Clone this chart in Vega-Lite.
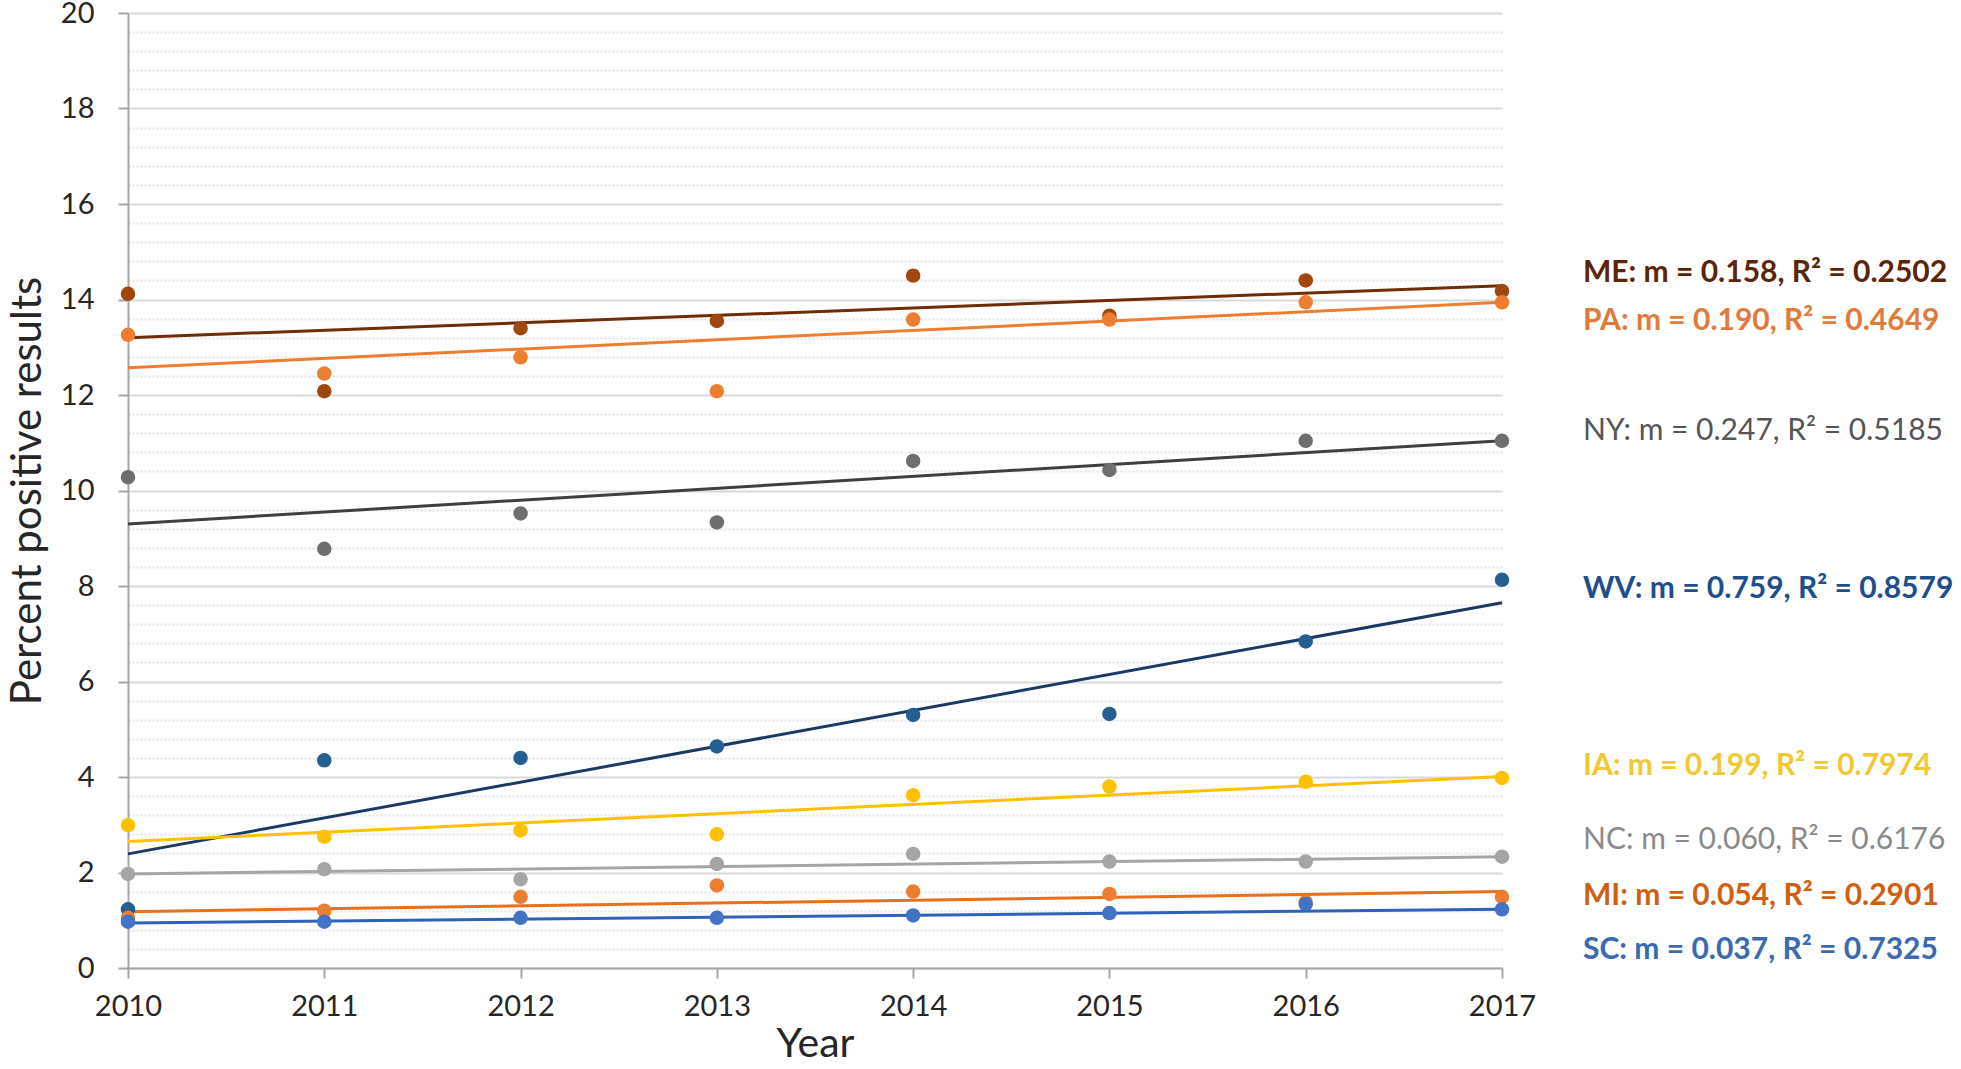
{
  "$schema": "https://vega.github.io/schema/vega-lite/v6.json",
  "width": 1374,
  "height": 955,
  "autosize": {"type": "none"},
  "padding": {"left": 128, "top": 13, "right": 459, "bottom": 101},
  "background": "white",
  "config": {"view": {"stroke": null}, "font": "Lato"},
  "datasets": {
    "points": [
      {"state": "ME", "year": 2010, "value": 14.12}, {"state": "ME", "year": 2011, "value": 12.08}, {"state": "ME", "year": 2012, "value": 13.4}, {"state": "ME", "year": 2013, "value": 13.55}, {"state": "ME", "year": 2014, "value": 14.5}, {"state": "ME", "year": 2015, "value": 13.66}, {"state": "ME", "year": 2016, "value": 14.4}, {"state": "ME", "year": 2017, "value": 14.18},
      {"state": "PA", "year": 2010, "value": 13.26}, {"state": "PA", "year": 2011, "value": 12.45}, {"state": "PA", "year": 2012, "value": 12.79}, {"state": "PA", "year": 2013, "value": 12.08}, {"state": "PA", "year": 2014, "value": 13.58}, {"state": "PA", "year": 2015, "value": 13.58}, {"state": "PA", "year": 2016, "value": 13.94}, {"state": "PA", "year": 2017, "value": 13.94},
      {"state": "NY", "year": 2010, "value": 10.28}, {"state": "NY", "year": 2011, "value": 8.78}, {"state": "NY", "year": 2012, "value": 9.52}, {"state": "NY", "year": 2013, "value": 9.33}, {"state": "NY", "year": 2014, "value": 10.62}, {"state": "NY", "year": 2015, "value": 10.43}, {"state": "NY", "year": 2016, "value": 11.04}, {"state": "NY", "year": 2017, "value": 11.04},
      {"state": "WV", "year": 2010, "value": 1.23}, {"state": "WV", "year": 2011, "value": 4.35}, {"state": "WV", "year": 2012, "value": 4.4}, {"state": "WV", "year": 2013, "value": 4.64}, {"state": "WV", "year": 2014, "value": 5.3}, {"state": "WV", "year": 2015, "value": 5.32}, {"state": "WV", "year": 2016, "value": 6.84}, {"state": "WV", "year": 2017, "value": 8.13},
      {"state": "IA", "year": 2010, "value": 2.99}, {"state": "IA", "year": 2011, "value": 2.75}, {"state": "IA", "year": 2012, "value": 2.88}, {"state": "IA", "year": 2013, "value": 2.8}, {"state": "IA", "year": 2014, "value": 3.62}, {"state": "IA", "year": 2015, "value": 3.8}, {"state": "IA", "year": 2016, "value": 3.9}, {"state": "IA", "year": 2017, "value": 3.98},
      {"state": "NC", "year": 2010, "value": 1.97}, {"state": "NC", "year": 2011, "value": 2.07}, {"state": "NC", "year": 2012, "value": 1.86}, {"state": "NC", "year": 2013, "value": 2.18}, {"state": "NC", "year": 2014, "value": 2.39}, {"state": "NC", "year": 2015, "value": 2.23}, {"state": "NC", "year": 2016, "value": 2.23}, {"state": "NC", "year": 2017, "value": 2.33},
      {"state": "MI", "year": 2010, "value": 1.05}, {"state": "MI", "year": 2011, "value": 1.2}, {"state": "MI", "year": 2012, "value": 1.49}, {"state": "MI", "year": 2013, "value": 1.73}, {"state": "MI", "year": 2014, "value": 1.6}, {"state": "MI", "year": 2015, "value": 1.55}, {"state": "MI", "year": 2016, "value": 1.38}, {"state": "MI", "year": 2017, "value": 1.49},
      {"state": "SC", "year": 2010, "value": 0.97}, {"state": "SC", "year": 2011, "value": 0.97}, {"state": "SC", "year": 2012, "value": 1.05}, {"state": "SC", "year": 2013, "value": 1.05}, {"state": "SC", "year": 2014, "value": 1.1}, {"state": "SC", "year": 2015, "value": 1.15}, {"state": "SC", "year": 2016, "value": 1.34}, {"state": "SC", "year": 2017, "value": 1.23}
    ],
    "trends": [
      {"state": "ME", "year": 2010, "value": 13.2}, {"state": "ME", "year": 2017, "value": 14.29},
      {"state": "PA", "year": 2010, "value": 12.57}, {"state": "PA", "year": 2017, "value": 13.94},
      {"state": "NY", "year": 2010, "value": 9.3}, {"state": "NY", "year": 2017, "value": 11.04},
      {"state": "WV", "year": 2010, "value": 2.39}, {"state": "WV", "year": 2017, "value": 7.65},
      {"state": "IA", "year": 2010, "value": 2.65}, {"state": "IA", "year": 2017, "value": 4.01},
      {"state": "NC", "year": 2010, "value": 1.97}, {"state": "NC", "year": 2017, "value": 2.33},
      {"state": "MI", "year": 2010, "value": 1.18}, {"state": "MI", "year": 2017, "value": 1.6},
      {"state": "SC", "year": 2010, "value": 0.94}, {"state": "SC", "year": 2017, "value": 1.23}
    ],
    "labels": [
      {"state": "ME", "label": "ME: m = 0.158, R² = 0.2502", "label_y": 14.56, "weight": "bold"},
      {"state": "PA", "label": "PA: m = 0.190, R² = 0.4649", "label_y": 13.55, "weight": "bold"},
      {"state": "NY", "label": "NY: m = 0.247, R² = 0.5185", "label_y": 11.25, "weight": "normal"},
      {"state": "WV", "label": "WV: m = 0.759, R² = 0.8579", "label_y": 7.93, "weight": "bold"},
      {"state": "IA", "label": "IA: m = 0.199, R² = 0.7974", "label_y": 4.24, "weight": "bold"},
      {"state": "NC", "label": "NC: m = 0.060, R² = 0.6176", "label_y": 2.69, "weight": "normal"},
      {"state": "MI", "label": "MI: m = 0.054, R² = 0.2901", "label_y": 1.51, "weight": "bold"},
      {"state": "SC", "label": "SC: m = 0.037, R² = 0.7325", "label_y": 0.37, "weight": "bold"}
    ]
  },
  "layer": [
    {
      "data": {"name": "trends"},
      "mark": {"type": "line", "strokeWidth": 3},
      "encoding": {
        "x": {"field": "year", "type": "quantitative", "scale": {"domain": [2010, 2017], "nice": false, "zero": false},
          "axis": {"values": [2010, 2011, 2012, 2013, 2014, 2015, 2016, 2017], "format": "d", "grid": false, "labelFlush": false,
            "labelFontSize": 29, "labelColor": "#262626", "labelPadding": 14, "tickSize": 10, "tickColor": "#A6A6A6", "tickWidth": 2,
            "domainColor": "#A6A6A6", "domainWidth": 2, "title": "Year", "titleFontSize": 41, "titleFontWeight": "normal", "titleColor": "#262626", "titlePadding": 3}},
        "y": {"field": "value", "type": "quantitative", "scale": {"domain": [0, 20], "nice": false, "zero": true},
          "axis": {"orient": "left", "values": [0.4,0.8,1.2,1.6,2.4,2.8,3.2,3.6,4.4,4.8,5.2,5.6,6.4,6.8,7.2,7.6,8.4,8.8,9.2,9.6,10.4,10.8,11.2,11.6,12.4,12.8,13.2,13.6,14.4,14.8,15.2,15.6,16.4,16.8,17.2,17.6,18.4,18.8,19.2,19.6],
            "grid": true, "gridColor": "#E4E4E4", "gridDash": [2, 2], "gridWidth": 2, "labels": false, "ticks": false, "domain": false, "title": null}},
        "color": {"field": "state", "type": "nominal", "legend": null,
          "scale": {"domain": ["ME", "PA", "NY", "WV", "IA", "NC", "MI", "SC"],
            "range": ["#6E2C07", "#ED7D31", "#3F3F3F", "#1B3A63", "#FFC000", "#A5A5A5", "#E8701C", "#2E62B8"]}},
        "detail": {"field": "state"}
      }
    },
    {
      "data": {"name": "points"},
      "mark": {"type": "circle", "size": 210, "opacity": 1},
      "encoding": {
        "x": {"field": "year", "type": "quantitative", "axis": null},
        "y": {"field": "value", "type": "quantitative",
          "axis": {"orient": "left", "values": [0, 2, 4, 6, 8, 10, 12, 14, 16, 18, 20], "grid": true, "gridColor": "#D9D9D9", "gridWidth": 2, "labelFlush": false,
            "labelFontSize": 29, "labelColor": "#262626", "labelPadding": 24, "tickSize": 10, "tickColor": "#A6A6A6", "tickWidth": 2,
            "domainColor": "#A6A6A6", "domainWidth": 2, "title": "Percent positive results", "titleFontSize": 42, "titleFontWeight": "normal", "titleColor": "#262626", "titlePadding": 11}},
        "color": {"field": "state", "type": "nominal", "legend": null,
          "scale": {"domain": ["ME", "PA", "NY", "WV", "IA", "NC", "MI", "SC"],
            "range": ["#A0460F", "#ED7D31", "#6E6E6E", "#255E91", "#FFC000", "#A5A5A5", "#ED7D31", "#4472C4"]}}
      }
    },
    {
      "data": {"name": "labels"},
      "transform": [{"filter": "datum.weight == 'bold'"}],
      "mark": {"type": "text", "align": "left", "baseline": "middle", "fontSize": 30, "fontWeight": "bold", "dx": 81},
      "encoding": {
        "x": {"datum": 2017, "type": "quantitative", "axis": null},
        "y": {"field": "label_y", "type": "quantitative", "axis": null},
        "text": {"field": "label"},
        "color": {"field": "state", "type": "nominal", "legend": null,
          "scale": {"domain": ["ME", "PA", "NY", "WV", "IA", "NC", "MI", "SC"],
            "range": ["#5A2508", "#E07B39", "#555555", "#1F4E8C", "#F2C830", "#8A8A8A", "#D0600F", "#3A6AB0"]}}
      }
    },
    {
      "data": {"name": "labels"},
      "transform": [{"filter": "datum.weight == 'normal'"}],
      "mark": {"type": "text", "align": "left", "baseline": "middle", "fontSize": 30, "fontWeight": "normal", "dx": 81},
      "encoding": {
        "x": {"datum": 2017, "type": "quantitative", "axis": null},
        "y": {"field": "label_y", "type": "quantitative", "axis": null},
        "text": {"field": "label"},
        "color": {"field": "state", "type": "nominal", "legend": null,
          "scale": {"domain": ["ME", "PA", "NY", "WV", "IA", "NC", "MI", "SC"],
            "range": ["#5A2508", "#E07B39", "#555555", "#1F4E8C", "#F2C830", "#8A8A8A", "#D0600F", "#3A6AB0"]}}
      }
    }
  ],
  "resolve": {"scale": {"color": "independent"}, "axis": {"y": "independent", "x": "independent"}}
}
